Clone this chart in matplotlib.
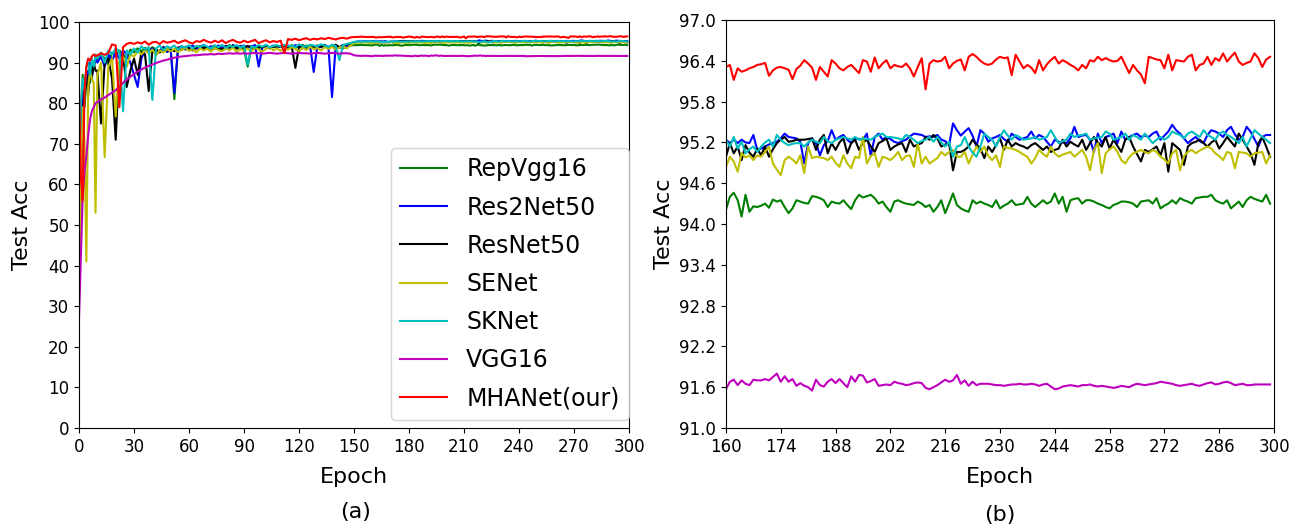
import numpy as np
import matplotlib
matplotlib.use("Agg")
import matplotlib.pyplot as plt

plt.rcParams['font.family'] = ['DejaVu Sans']

# 横轴: 前期 0-9 每轮, 10-158 每两轮; 后期 160-299 每轮
epochs_early = list(range(0, 10)) + list(range(10, 160, 2))
epochs_late = list(range(160, 300))

names = ["RepVgg16", "Res2Net50", "ResNet50", "SENet", "SKNet", "VGG16", "MHANet(our)"]
colors = ["g", "b", "k", "y", "c", "m", "r"]

# ---- 前期 (epoch 0-158) ----
repvgg_early = [
    58.0, 74.0, 87.0, 79.0, 86.0, 88.0, 85.0, 90.0, 89.0, 91.0,
    90.5, 92.0, 91.0, 89.5, 92.5, 91.5, 93.0, 92.0, 91.0, 93.2,
    92.5, 93.5, 92.8, 93.6, 92.9, 93.8, 93.2, 92.6, 93.9, 93.3,
    93.0, 81.0, 93.5, 94.0, 93.2, 93.8, 94.1, 93.4, 93.7, 94.2,
    93.6, 93.9, 94.2, 93.5, 94.0, 93.7, 94.3, 93.8, 93.4, 94.1,
    93.2, 89.0, 93.8, 94.2, 93.5, 93.9, 94.3, 93.6, 94.0, 93.8,
    94.1, 93.6, 93.9, 94.3, 93.7, 94.0, 93.5, 94.2, 93.8, 94.1,
    93.7, 94.0, 94.2, 93.6, 93.9, 94.1, 93.8, 93.5, 94.0, 94.2,
    94.3, 94.3, 94.35, 94.3, 94.3]
res2net_early = [
    44.0, 66.0, 81.0, 84.0, 88.0, 86.0, 90.0, 87.0, 89.0, 91.0,
    90.0, 91.5, 89.0, 92.0, 90.5, 92.5, 91.0, 93.0, 92.0, 90.0,
    87.0, 84.0, 91.0, 93.0, 92.5, 93.5, 92.0, 93.0, 93.8, 92.6,
    93.2, 82.5, 93.6, 94.0, 93.3, 93.8, 94.2, 93.5, 93.9, 94.3,
    93.7, 94.0, 93.4, 94.2, 93.8, 94.1, 93.6, 94.3, 93.9, 94.0,
    94.2, 93.6, 94.0, 94.3, 89.0, 93.8, 94.1, 93.7, 94.2, 93.9,
    94.0, 93.6, 94.2, 93.8, 94.3, 93.9, 94.1, 93.5, 94.2, 87.7,
    94.0, 93.8, 94.3, 93.9, 81.5, 94.2, 93.7, 94.4, 94.0, 94.5,
    95.0, 95.2, 95.2, 95.25, 95.2]
resnet_early = [
    38.0, 58.0, 76.0, 84.0, 87.0, 82.0, 89.0, 86.0, 90.0, 88.0,
    88.0, 75.0, 90.0, 91.0, 86.0, 71.0, 90.0, 92.0, 84.0, 88.0,
    91.0, 87.0, 92.5, 92.0, 83.0, 92.8, 93.2, 92.5, 93.5, 93.0,
    93.3, 92.8, 93.7, 93.1, 93.9, 93.4, 93.0, 93.8, 94.0, 93.5,
    93.9, 93.4, 94.1, 93.6, 93.2, 94.0, 93.7, 94.2, 93.5, 93.9,
    93.6, 94.1, 93.8, 93.4, 94.0, 93.7, 94.2, 93.5, 93.9, 94.1,
    93.8, 94.2, 93.6, 94.0, 88.7, 93.9, 94.3, 93.7, 94.1, 93.8,
    94.2, 93.9, 94.3, 93.7, 94.0, 94.4, 93.8, 94.1, 94.5, 94.6,
    95.0, 95.1, 95.0, 95.1, 95.05]
senet_early = [
    36.0, 60.0, 79.0, 70.0, 41.0, 84.0, 88.0, 86.0, 85.0, 53.0,
    87.0, 90.0, 66.7, 89.0, 91.0, 76.7, 90.5, 91.5, 89.0, 92.0,
    91.5, 92.8, 92.0, 93.0, 92.3, 93.2, 91.8, 93.0, 92.5, 93.3,
    92.8, 93.4, 92.6, 93.2, 93.6, 92.9, 93.3, 92.5, 93.5, 93.0,
    93.4, 92.7, 93.6, 93.1, 92.8, 93.5, 93.0, 93.7, 92.6, 93.3,
    93.0, 93.5, 92.8, 93.6, 93.2, 92.7, 93.4, 93.8, 93.0, 93.5,
    92.9, 93.6, 93.2, 93.8, 93.4, 92.8, 93.7, 93.1, 93.9, 93.3,
    93.6, 93.0, 93.8, 93.4, 93.9, 93.2, 93.7, 94.0, 93.5, 94.2,
    94.8, 94.9, 95.0, 94.95, 94.9]
sknet_early = [
    62.0, 80.0, 86.0, 83.0, 89.0, 90.0, 87.0, 91.0, 89.0, 92.0,
    91.0, 92.5, 90.0, 93.0, 92.0, 93.5, 92.8, 78.0, 93.0, 92.0,
    93.5, 92.5, 94.0, 93.2, 93.8, 80.8, 93.5, 94.2, 93.0, 94.0,
    93.6, 94.2, 93.2, 94.0, 93.7, 94.3, 93.5, 94.1, 93.8, 94.4,
    93.9, 93.5, 94.2, 93.8, 94.4, 93.6, 94.1, 93.9, 94.3, 93.7,
    94.2, 89.5, 94.0, 93.7, 94.3, 93.9, 94.4, 93.8, 94.1, 94.3,
    93.9, 94.4, 94.0, 94.2, 93.8, 94.5, 94.1, 93.9, 94.4, 94.2,
    94.0, 94.5, 94.2, 93.9, 94.4, 94.1, 90.6, 94.3, 94.6, 94.8,
    95.1, 95.2, 95.15, 95.2, 95.2]
vgg_early = [
    27.0, 42.0, 57.0, 63.0, 67.0, 72.0, 76.0, 78.0, 79.0, 80.0,
    80.3, 80.9, 81.4, 82.0, 82.6, 83.2, 84.1, 85.0, 85.8, 86.5,
    87.2, 87.8, 88.3, 88.8, 89.2, 89.5, 89.9, 90.2, 90.5, 90.7,
    91.0, 91.2, 91.4, 91.5, 91.6, 91.7, 91.8, 91.8, 91.9, 92.0,
    92.0, 92.1, 92.0, 92.2, 92.1, 92.2, 92.3, 92.2, 92.3, 92.2,
    92.3, 92.2, 92.3, 92.4, 92.3, 92.2, 92.3, 92.4, 92.3, 92.2,
    92.3, 92.4, 92.3, 92.2, 92.3, 92.4, 92.3, 92.3, 92.2, 92.3,
    92.4, 92.3, 92.2, 92.3, 92.4, 92.3, 92.2, 92.3, 92.3, 92.2,
    91.8, 91.7, 91.65, 91.7, 91.65]
mhanet_early = [
    84.0, 62.0, 56.0, 83.0, 89.0, 91.0, 90.5, 91.5, 92.0, 91.6,
    91.8, 92.3, 91.9, 92.4, 94.5, 94.2, 79.0, 93.8, 94.6, 94.9,
    94.6, 95.0, 94.7, 95.2, 94.4, 95.0, 95.1, 94.6, 95.3, 94.9,
    95.1, 95.4, 94.8, 95.2, 95.5, 95.0, 94.7, 95.3, 95.1, 95.6,
    95.2, 94.9, 95.4, 95.0, 95.5, 94.8, 95.3, 95.6, 95.1, 94.9,
    95.4, 95.0, 95.3, 95.6, 94.8, 95.2, 95.5, 95.0, 95.3, 95.1,
    95.4, 92.3, 95.8, 95.6, 95.9, 95.5, 95.8, 96.0, 95.6, 95.9,
    95.7, 96.0, 95.8, 96.1, 95.9, 95.7, 96.0, 96.1, 95.9, 96.2,
    96.3, 96.3, 96.4, 96.3, 96.3]

# ---- 后期 (epoch 160-299) ----
repvgg_late = [
    94.21, 94.40, 94.46, 94.35, 94.11, 94.43, 94.18, 94.26, 94.25, 94.27,
    94.30, 94.24, 94.36, 94.33, 94.35, 94.25, 94.16, 94.23, 94.35, 94.33,
    94.31, 94.30, 94.41, 94.40, 94.38, 94.35, 94.25, 94.33, 94.31, 94.30,
    94.35, 94.28, 94.22, 94.35, 94.43, 94.39, 94.41, 94.43, 94.38, 94.30,
    94.33, 94.25, 94.18, 94.33, 94.35, 94.32, 94.30, 94.29, 94.28, 94.33,
    94.30, 94.25, 94.28, 94.18, 94.25, 94.35, 94.16, 94.30, 94.45, 94.28,
    94.23, 94.20, 94.18, 94.35, 94.30, 94.33, 94.30, 94.28, 94.25, 94.35,
    94.23, 94.27, 94.30, 94.35, 94.28, 94.29, 94.30, 94.40, 94.30, 94.25,
    94.30, 94.35, 94.30, 94.33, 94.45, 94.30, 94.40, 94.18, 94.35, 94.37,
    94.38, 94.30, 94.35, 94.35, 94.33, 94.30, 94.28, 94.25, 94.23, 94.28,
    94.30, 94.33, 94.33, 94.32, 94.30, 94.25, 94.33, 94.34, 94.35, 94.30,
    94.38, 94.23, 94.27, 94.30, 94.35, 94.30, 94.38, 94.35, 94.33, 94.30,
    94.38, 94.39, 94.40, 94.40, 94.43, 94.35, 94.32, 94.30, 94.35, 94.23,
    94.28, 94.33, 94.25, 94.35, 94.40, 94.37, 94.35, 94.33, 94.43, 94.30]
res2net_late = [
    95.24, 95.19, 95.24, 95.19, 95.24, 95.20, 95.19, 95.31, 95.09, 95.11,
    95.14, 95.17, 95.19, 95.21, 95.26, 95.33, 95.28, 95.27, 95.26, 95.21,
    94.89, 95.19, 95.26, 95.19, 95.01, 95.16, 95.22, 95.38, 95.24, 95.28,
    95.31, 95.24, 95.19, 95.26, 95.25, 95.24, 95.33, 95.00, 95.28, 95.33,
    95.24, 95.28, 95.25, 95.21, 95.19, 95.22, 95.24, 95.29, 95.33, 95.32,
    95.31, 95.28, 95.29, 95.28, 95.31, 95.24, 95.22, 95.16, 95.48, 95.38,
    95.30, 95.36, 95.41, 95.30, 95.14, 95.38, 95.33, 95.21, 95.26, 95.28,
    95.31, 95.25, 95.21, 95.33, 95.28, 95.24, 95.26, 95.28, 95.36, 95.26,
    95.31, 95.28, 95.21, 95.14, 95.24, 95.21, 95.20, 95.19, 95.26, 95.43,
    95.28, 95.30, 95.31, 95.24, 95.06, 95.33, 95.19, 95.28, 95.30, 95.33,
    95.19, 95.36, 95.24, 95.28, 95.31, 95.33, 95.28, 95.30, 95.28, 95.33,
    95.36, 95.24, 95.30, 95.36, 95.46, 95.38, 95.33, 95.26, 95.19, 95.24,
    95.28, 95.22, 95.19, 95.31, 95.38, 95.36, 95.33, 95.28, 95.38, 95.43,
    95.32, 95.24, 95.28, 95.43, 95.36, 95.25, 95.14, 95.28, 95.31, 95.31]
resnet_late = [
    94.99, 95.19, 95.04, 95.14, 94.94, 95.16, 95.05, 94.99, 95.11, 95.01,
    95.14, 94.99, 95.10, 95.19, 95.24, 95.28, 95.21, 95.22, 95.24, 95.24,
    95.24, 95.25, 95.26, 95.09, 95.24, 95.31, 95.04, 95.19, 95.09, 95.20,
    95.26, 95.04, 95.19, 95.24, 95.09, 95.20, 95.24, 95.14, 95.06, 95.19,
    95.22, 95.26, 95.09, 95.14, 95.17, 95.19, 95.06, 95.24, 95.14, 95.17,
    95.19, 95.28, 95.24, 95.31, 95.26, 95.14, 95.17, 95.19, 94.79, 95.06,
    95.06, 95.09, 95.14, 95.24, 95.17, 95.11, 94.97, 95.14, 95.06, 95.16,
    95.26, 95.09, 95.24, 95.14, 95.19, 95.16, 95.14, 95.11, 95.16, 95.19,
    95.14, 95.09, 95.14, 95.06, 95.09, 95.11, 95.24, 95.14, 95.21, 95.17,
    95.14, 95.24, 95.09, 95.19, 95.28, 95.20, 95.14, 95.28, 95.11, 95.24,
    95.15, 95.06, 95.24, 95.28, 95.14, 95.03, 94.92, 95.09, 95.06, 95.10,
    95.14, 95.01, 95.19, 94.77, 95.19, 95.14, 95.09, 94.87, 95.14, 95.19,
    95.21, 95.24, 95.19, 95.14, 95.20, 95.24, 95.11, 95.19, 95.28, 95.21,
    95.14, 95.33, 95.24, 95.14, 95.04, 94.87, 95.19, 95.28, 95.14, 94.99]
senet_late = [
    94.84, 94.99, 94.92, 94.77, 95.04, 94.98, 95.01, 94.94, 95.01, 94.99,
    95.06, 95.14, 94.89, 94.80, 94.72, 94.94, 94.99, 94.95, 94.89, 95.01,
    94.75, 95.14, 94.97, 94.99, 94.98, 94.97, 94.94, 94.99, 94.90, 94.84,
    95.01, 94.89, 94.82, 94.99, 94.97, 95.28, 94.89, 95.00, 95.04, 94.84,
    94.99, 94.97, 94.94, 94.99, 95.06, 94.94, 95.00, 95.01, 94.84, 95.19,
    94.89, 94.99, 94.89, 94.93, 94.97, 95.06, 95.01, 95.06, 95.09, 94.99,
    94.99, 95.06, 94.89, 95.02, 95.14, 95.06, 95.14, 95.00, 94.94, 95.01,
    94.84, 95.14, 95.12, 95.11, 95.09, 95.06, 95.02, 94.99, 94.89, 94.97,
    95.09, 95.03, 94.99, 95.14, 95.04, 94.99, 95.02, 95.04, 95.06, 94.99,
    95.04, 95.09, 94.99, 94.79, 95.09, 95.19, 94.75, 95.04, 95.10, 95.14,
    95.06, 94.94, 94.89, 94.98, 95.04, 95.06, 95.09, 95.06, 95.04, 95.09,
    95.06, 94.99, 94.95, 94.89, 95.04, 95.09, 94.79, 95.00, 95.06, 95.09,
    95.04, 95.08, 95.11, 95.14, 95.11, 95.04, 95.00, 94.94, 95.06, 95.04,
    94.82, 95.06, 95.05, 95.04, 94.99, 95.04, 95.05, 95.06, 94.89, 95.01]
sknet_late = [
    95.24, 95.14, 95.28, 95.11, 95.21, 95.04, 95.10, 95.14, 95.06, 95.14,
    95.20, 95.24, 95.14, 95.31, 95.24, 95.19, 95.16, 95.18, 95.19, 95.19,
    95.14, 95.20, 95.24, 95.21, 95.19, 95.28, 95.22, 95.19, 95.24, 95.26,
    95.28, 95.26, 95.24, 95.28, 95.24, 95.26, 95.25, 95.24, 95.28, 95.31,
    95.33, 95.28, 95.28, 95.27, 95.26, 95.24, 95.31, 95.28, 95.24, 95.19,
    95.22, 95.24, 95.28, 95.21, 95.28, 95.20, 95.14, 95.21, 94.99, 95.14,
    95.16, 95.28, 95.14, 95.05, 94.99, 95.14, 95.33, 95.28, 95.24, 95.14,
    95.28, 95.38, 95.30, 95.24, 95.31, 95.28, 95.24, 95.25, 95.26, 95.28,
    95.24, 95.26, 95.28, 95.38, 95.28, 95.19, 95.22, 95.24, 95.33, 95.28,
    95.30, 95.31, 95.33, 95.24, 95.26, 95.27, 95.28, 95.36, 95.33, 95.24,
    95.26, 95.28, 95.33, 95.24, 95.31, 95.28, 95.24, 95.33, 95.26, 95.19,
    95.24, 95.28, 95.24, 95.28, 95.36, 95.33, 95.31, 95.26, 95.33, 95.36,
    95.32, 95.28, 95.38, 95.31, 95.28, 95.24, 95.33, 95.36, 95.31, 95.28,
    95.24, 95.19, 95.28, 95.14, 95.26, 95.38, 95.33, 95.28, 95.24, 95.19]
vgg_late = [
    91.57, 91.68, 91.71, 91.63, 91.70, 91.65, 91.63, 91.71, 91.70, 91.70,
    91.72, 91.70, 91.75, 91.80, 91.68, 91.76, 91.68, 91.72, 91.62, 91.66,
    91.62, 91.60, 91.55, 91.71, 91.63, 91.61, 91.68, 91.72, 91.66, 91.72,
    91.66, 91.60, 91.76, 91.68, 91.78, 91.77, 91.67, 91.69, 91.72, 91.62,
    91.63, 91.64, 91.63, 91.68, 91.66, 91.65, 91.63, 91.64, 91.66, 91.67,
    91.66, 91.59, 91.57, 91.60, 91.63, 91.67, 91.71, 91.68, 91.70, 91.78,
    91.65, 91.70, 91.62, 91.68, 91.63, 91.65, 91.65, 91.65, 91.64, 91.63,
    91.63, 91.62, 91.63, 91.64, 91.64, 91.65, 91.64, 91.64, 91.65, 91.64,
    91.62, 91.64, 91.65, 91.61, 91.57, 91.58, 91.61, 91.62, 91.63, 91.62,
    91.61, 91.63, 91.63, 91.64, 91.62, 91.61, 91.62, 91.61, 91.60, 91.59,
    91.60, 91.62, 91.61, 91.60, 91.63, 91.65, 91.64, 91.63, 91.64, 91.65,
    91.66, 91.68, 91.67, 91.66, 91.65, 91.63, 91.62, 91.63, 91.64, 91.65,
    91.63, 91.62, 91.64, 91.66, 91.67, 91.64, 91.65, 91.67, 91.68, 91.66,
    91.63, 91.64, 91.65, 91.63, 91.63, 91.64, 91.64, 91.64, 91.64, 91.64]
mhanet_late = [
    96.31, 96.34, 96.12, 96.29, 96.24, 96.26, 96.29, 96.31, 96.34, 96.35,
    96.37, 96.18, 96.26, 96.30, 96.31, 96.29, 96.27, 96.13, 96.28, 96.33,
    96.41, 96.36, 96.30, 96.12, 96.31, 96.24, 96.17, 96.41, 96.36, 96.29,
    96.26, 96.31, 96.34, 96.28, 96.22, 96.41, 96.39, 96.24, 96.45, 96.29,
    96.36, 96.41, 96.29, 96.34, 96.32, 96.31, 96.36, 96.29, 96.17, 96.31,
    96.44, 95.98, 96.36, 96.41, 96.39, 96.40, 96.46, 96.29, 96.36, 96.40,
    96.42, 96.26, 96.46, 96.50, 96.46, 96.40, 96.36, 96.34, 96.36, 96.42,
    96.46, 96.44, 96.45, 96.19, 96.49, 96.39, 96.29, 96.34, 96.30, 96.22,
    96.41, 96.26, 96.35, 96.41, 96.46, 96.36, 96.41, 96.38, 96.34, 96.31,
    96.26, 96.34, 96.29, 96.41, 96.39, 96.46, 96.41, 96.44, 96.41, 96.39,
    96.40, 96.46, 96.34, 96.22, 96.34, 96.26, 96.20, 96.07, 96.46, 96.44,
    96.42, 96.41, 96.29, 96.49, 96.26, 96.41, 96.40, 96.39, 96.46, 96.49,
    96.26, 96.34, 96.36, 96.46, 96.34, 96.44, 96.40, 96.51, 96.39, 96.46,
    96.52, 96.39, 96.34, 96.37, 96.39, 96.51, 96.44, 96.31, 96.42, 96.46]

early_all = [repvgg_early, res2net_early, resnet_early, senet_early,
             sknet_early, vgg_early, mhanet_early]
late_all = [repvgg_late, res2net_late, resnet_late, senet_late,
            sknet_late, vgg_late, mhanet_late]


fig = plt.figure(figsize=(13.04, 5.25), dpi=100)
ax1 = fig.add_axes((0.0606, 0.1848, 0.4218, 0.7733))
ax2 = fig.add_axes((0.5567, 0.1848, 0.4203, 0.7770))

for name, color, early, late in zip(names, colors, early_all, late_all):
    ax1.plot(epochs_early + epochs_late, early + late, color=color, lw=1.5, label=name)
    ax2.plot(epochs_late, late, color=color, lw=1.5)

# (a) 全程
ax1.set_xlim(0, 300)
ax1.set_ylim(0, 100)
ax1.set_xticks(range(0, 301, 30))
ax1.set_yticks(range(0, 101, 10))
ax1.set_xlabel("Epoch", fontsize=16, labelpad=8)
ax1.set_ylabel("Test Acc", fontsize=16)
ax1.legend(loc="lower right", fontsize=17, bbox_to_anchor=(1.0, 0.02),
           borderaxespad=0, labelspacing=0.6, handlelength=2.0)

# (b) 后期放大
ax2.set_xlim(160, 300)
ax2.set_ylim(91, 97)
ax2.set_xticks(range(160, 301, 14))
ax2.set_yticks(np.linspace(91, 97, 11))
ax2.yaxis.set_major_formatter("{x:.1f}")
ax2.set_xlabel("Epoch", fontsize=16, labelpad=8)
ax2.set_ylabel("Test Acc", fontsize=16)

for ax in (ax1, ax2):
    ax.tick_params(labelsize=12)

fig.text(0.2723, 0.025, "(a)", ha="center", va="center", fontsize=16)
fig.text(0.767, 0.02, "(b)", ha="center", va="center", fontsize=16)

fig.savefig("out.png", dpi=100)
